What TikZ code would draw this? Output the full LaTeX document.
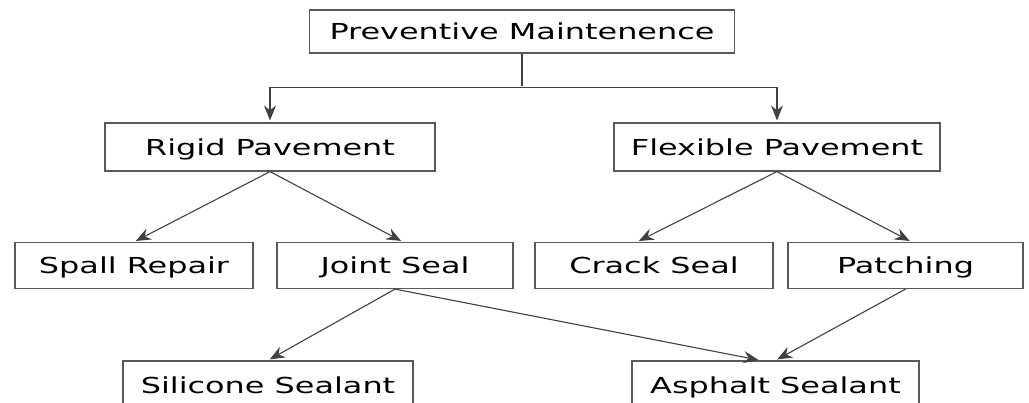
\documentclass[tikz,border=0pt]{standalone}
\usepackage{fontspec}
\setmainfont{DejaVu Sans}[FakeStretch=1.45]
\usetikzlibrary{arrows.meta}

\tikzset{box/.style={draw=black!65, line width=1.2pt, rectangle, inner sep=0pt,
	minimum height=46, text height=16pt, text depth=0pt, font=\fontsize{22}{26}\selectfont}}

\begin{document}
\begin{tikzpicture}[x=1pt,y=-1pt,>={Stealth[length=15pt,width=12pt,inset=5pt]},shorten >=2pt,line width=1.1pt]
	\clip (0,0) rectangle (1029,402);
	\node[box,minimum width=425,minimum height=43] (PM) at (522,31.5) {Preventive Maintenence};
	\node[box,minimum width=330,minimum height=48] (rigid) at (270,147) {Rigid Pavement};
	\node[box,minimum width=326,minimum height=48] (flex) at (777,147) {Flexible Pavement};
	\node[box,minimum width=238] (spall) at (134,265.5) {Spall Repair};
	\node[box,minimum width=236] (joint) at (395,265.5) {Joint Seal};
	\node[box,minimum width=238] (crack) at (654,265.5) {Crack Seal};
	\node[box,minimum width=235] (patch) at (905.5,265.5) {Patching};
	\node[box,minimum width=290,minimum height=48] (silicone) at (268,385) {Silicone Sealant};
	\node[box,minimum width=287,minimum height=48] (asphalt) at (775.5,385) {Asphalt Sealant};

	\draw[black!75] (PM.south) -- ++(0,34) coordinate (split);
	\draw[->,black!75] (split) -| (rigid.north);
	\draw[->,black!75] (split) -| (flex.north);
	\path[->,black!75] (rigid.south) edge (spall.north)
	(rigid.south) edge ([xshift=8]joint.north)
	(flex.south) edge ([xshift=-17]crack.north)
	(flex.south) edge ([xshift=6]patch.north)
	(joint.south) edge (silicone.north)
	(joint.south) edge ([xshift=-15]asphalt.north)
	(patch.south) edge (asphalt.north)
	;
\end{tikzpicture}
\end{document}
